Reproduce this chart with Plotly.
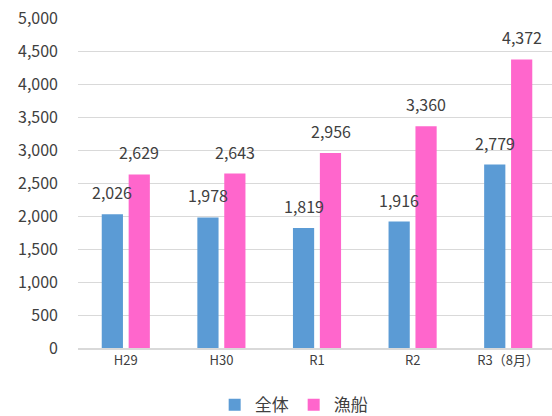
import plotly.graph_objects as go

categories = ["H29", "H30", "R1", "R2", "R3（8月）"]
zentai = [2026, 1978, 1819, 1916, 2779]
gyosen = [2629, 2643, 2956, 3360, 4372]
series_names = ["全体", "漁船"]
colors = ["#5B9BD5", "#FF66CC"]
tick_vals = list(range(0, 5001, 500))
tick_text = [f"{v:,}" for v in tick_vals]

font = "Noto Sans CJK JP"
fig = go.Figure()
for name, vals, col in zip(series_names, [zentai, gyosen], colors):
    fig.add_trace(go.Bar(x=categories, y=vals, name=name, marker_color=col,
                         marker_line_width=0))

anns = []
for vals, shift in [(zentai, -13.5), (gyosen, 13.5)]:
    for c, v in zip(categories, vals):
        anns.append(dict(x=c, y=v, xref="x", yref="y", text=f"{v:,}", showarrow=False,
                         xshift=shift, yshift=8, yanchor="bottom",
                         font=dict(family=font, size=16, color="#404040")))

fig.update_layout(
    width=552, height=416,
    margin=dict(l=78, r=0, t=18, b=68, autoexpand=False),
    paper_bgcolor="white", plot_bgcolor="white",
    barmode="group", bargap=0.437, bargroupgap=0.212,
    font=dict(family=font, size=15, color="#404040"),
    annotations=anns,
    showlegend=True,
    legend=dict(orientation="h", x=0.455, xanchor="center", y=-0.173, yanchor="middle",
                font=dict(size=17, color="#404040"), itemwidth=30, traceorder="normal",
                bgcolor="rgba(0,0,0,0)"),
    xaxis=dict(range=[-0.5, 4.458], showline=True, linecolor="#d9d9d9", linewidth=1.5,
               ticks="", tickfont=dict(size=13)),
    yaxis=dict(range=[0, 5000], tickvals=tick_vals, ticktext=tick_text,
               showgrid=True, gridcolor="#d9d9d9", gridwidth=1, zeroline=False,
               ticklabelstandoff=19, tickfont=dict(size=16)),
)
fig.write_html("out.html")
